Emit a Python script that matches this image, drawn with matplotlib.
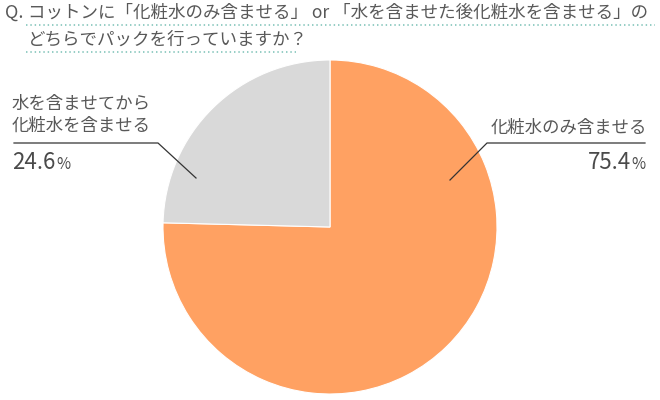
import matplotlib
matplotlib.use("Agg")
import matplotlib.pyplot as plt
from matplotlib.lines import Line2D

plt.rcParams['font.family'] = ['Noto Sans CJK JP', 'DejaVu Sans']

labels = ["化粧水のみ含ませる", "水を含ませてから\n化粧水を含ませる"]
values = [75.4, 24.6]
colors = ["#FFA162", "#D9D9D9"]
title_lines = ["コットンに「化粧水のみ含ませる」 or 「水を含ませた後化粧水を含ませる」の",
               "どちらでパックを行っていますか？"]

W, H = 660, 400
fig = plt.figure(figsize=(W/100, H/100), dpi=100)
fig.patch.set_facecolor("white")

def fx(px):
    return px / W

def fy(py):
    return 1 - py / H

cx, cy, r = 330, 227, 167
ax = fig.add_axes([fx(cx - r), fy(cy + r), 2*r/W, 2*r/H])
ax.pie(values, colors=colors, startangle=90, counterclock=False,
       wedgeprops=dict(edgecolor="white", linewidth=0.8))
ax.set_xlim(-1, 1); ax.set_ylim(-1, 1)
ax.set_aspect("auto")
ax.axis("off")

tc = "#585858"
# title
fig.text(fx(5), fy(13), "Q.", fontsize=13, color=tc, va="center", ha="left")
fig.text(fx(28), fy(13), title_lines[0], fontsize=12.6, color=tc, va="center", ha="left")
fig.text(fx(28), fy(40), title_lines[1], fontsize=12.6, color=tc, va="center", ha="left")
dot = "#8CC9C0"
fig.add_artist(Line2D([fx(26), fx(655)], [fy(25), fy(25)], color=dot, lw=1.3,
                      linestyle=(0, (0.8, 1.6)), transform=fig.transFigure))
fig.add_artist(Line2D([fx(26), fx(296)], [fy(52), fy(52)], color=dot, lw=1.3,
                      linestyle=(0, (0.8, 1.6)), transform=fig.transFigure))

lc = "#333333"
# gray label (left)
fig.text(fx(12), fy(115), labels[1], fontsize=12.5, color=tc, va="center", ha="left",
         linespacing=1.3)
fig.add_artist(Line2D([fx(14), fx(158), fx(196)], [fy(143), fy(143), fy(178)],
                      color=lc, lw=0.9, transform=fig.transFigure))
# orange label (right)
fig.text(fx(647), fy(128), labels[0], fontsize=12.5, color=tc, va="center", ha="right")
fig.add_artist(Line2D([fx(645), fx(487), fx(450)], [fy(143), fy(143), fy(180)],
                      color=lc, lw=0.9, transform=fig.transFigure))

fig.canvas.draw()
renderer = fig.canvas.get_renderer()

nc = "#4a4a4a"

def pct(x, y, val, align):
    num = f"{val}"
    if align == "left":
        t = fig.text(fx(x), fy(y), num, fontsize=16, color=nc, va="baseline", ha="left")
        bb = t.get_window_extent(renderer)
        fig.text(bb.x1 / W + 0.001, fy(y), "%", fontsize=11, color=nc, va="baseline", ha="left")
    else:
        p = fig.text(fx(x), fy(y), "%", fontsize=11, color=nc, va="baseline", ha="right")
        bb = p.get_window_extent(renderer)
        fig.text(bb.x0 / W - 0.001, fy(y), num, fontsize=16, color=nc, va="baseline", ha="right")

pct(12, 169, values[1], "left")
pct(646, 169, values[0], "right")

fig.savefig("out.png", dpi=100, facecolor="white")
